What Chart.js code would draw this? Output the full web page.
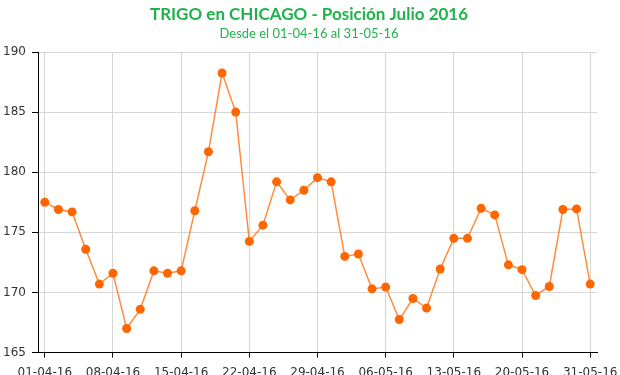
<!DOCTYPE html>
<html>
<head>
<meta charset="utf-8">
<script src="https://cdn.jsdelivr.net/npm/chart.js@4"></script>
<style>
    html, body { margin: 0; padding: 0; background: #fff; overflow: hidden; }
    #wrap { width: 620px; height: 388px; }
</style>
</head>
<body>
<div id="wrap"><canvas id="chart"></canvas></div>
<script>
const TITLE = "TRIGO en CHICAGO - Posición Julio 2016";
const SUBTITLE = "Desde el 01-04-16 al 31-05-16";

// trading days, one label per point
const dates = [
    "01-04-16", "04-04-16", "05-04-16", "06-04-16", "07-04-16",
    "08-04-16", "11-04-16", "12-04-16", "13-04-16", "14-04-16",
    "15-04-16", "18-04-16", "19-04-16", "20-04-16", "21-04-16",
    "22-04-16", "25-04-16", "26-04-16", "27-04-16", "28-04-16",
    "29-04-16", "02-05-16", "03-05-16", "04-05-16", "05-05-16",
    "06-05-16", "09-05-16", "10-05-16", "11-05-16", "12-05-16",
    "13-05-16", "16-05-16", "17-05-16", "18-05-16", "19-05-16",
    "20-05-16", "23-05-16", "24-05-16", "25-05-16", "26-05-16",
    "31-05-16"
];

const prices = [
    177.5, 176.9, 176.7, 173.6, 170.7,
    171.6, 167.0, 168.6, 171.8, 171.6,
    171.8, 176.8, 181.7, 188.25, 185.0,
    174.25, 175.6, 179.2, 177.7, 178.5,
    179.55, 179.2, 173.0, 173.2, 170.3,
    170.45, 167.75, 169.5, 168.7, 171.95,
    174.5, 174.5, 177.0, 176.45, 172.3,
    171.9, 169.75, 170.5, 176.9, 176.95,
    170.7
];

const yTicks = { min: 165, max: 190, step: 5 };
const labelEvery = 5;

const GREEN = "#20b24b";
const ORANGE = "#ff6600";
const tickFont = { family: "DejaVu Sans", size: 12 };

new Chart(document.getElementById("chart"), {
    type: "line",
    data: {
        labels: dates,
        datasets: [{
            data: prices,
            borderColor: "rgba(255, 120, 30, 0.85)",
            borderWidth: 1.5,
            pointBackgroundColor: ORANGE,
            pointBorderWidth: 0,
            pointRadius: 4.5,
            tension: 0
        }]
    },
    options: {
        responsive: true,
        maintainAspectRatio: false,
        animation: false,
        layout: { padding: { left: 0, right: 2, top: 0, bottom: 0 } },
        plugins: {
            legend: { display: false },
            tooltip: { enabled: false },
            title: {
                display: true,
                text: TITLE,
                color: GREEN,
                font: { family: "Lato", size: 17, weight: "bold" },
                padding: { top: 4, bottom: 2 }
            },
            subtitle: {
                display: true,
                text: SUBTITLE,
                color: GREEN,
                font: { family: "Lato", size: 13 },
                padding: { top: 0, bottom: 10 }
            }
        },
        scales: {
            x: {
                offset: true,
                afterBuildTicks: axis => {
                    axis.ticks = axis.ticks.filter((t, i) => i % labelEvery === 0);
                },
                // let the end labels hang into the margins
                afterFit: axis => {
                    axis.paddingLeft = 0;
                    axis.paddingRight = 0;
                },
                ticks: {
                    autoSkip: false,
                    maxRotation: 0,
                    padding: 8,
                    color: "#333",
                    font: tickFont
                },
                grid: { color: "#d6d6d6", tickColor: "#000", tickLength: 5, offset: false },
                border: { color: "#000", width: 1 }
            },
            y: {
                min: yTicks.min,
                max: yTicks.max,
                afterFit: axis => { axis.width = 38; },
                ticks: {
                    stepSize: yTicks.step,
                    padding: 6,
                    color: "#333",
                    font: tickFont
                },
                grid: { color: "#d6d6d6", tickColor: "#000", tickLength: 6 },
                border: { color: "#000", width: 1 }
            },
            // empty right-hand gutter so the title centres like the original
            yRight: {
                position: "right",
                afterFit: axis => { axis.width = 21; },
                ticks: { display: false },
                grid: { display: false },
                border: { display: false }
            }
        }
    }
});
</script>
</body>
</html>
